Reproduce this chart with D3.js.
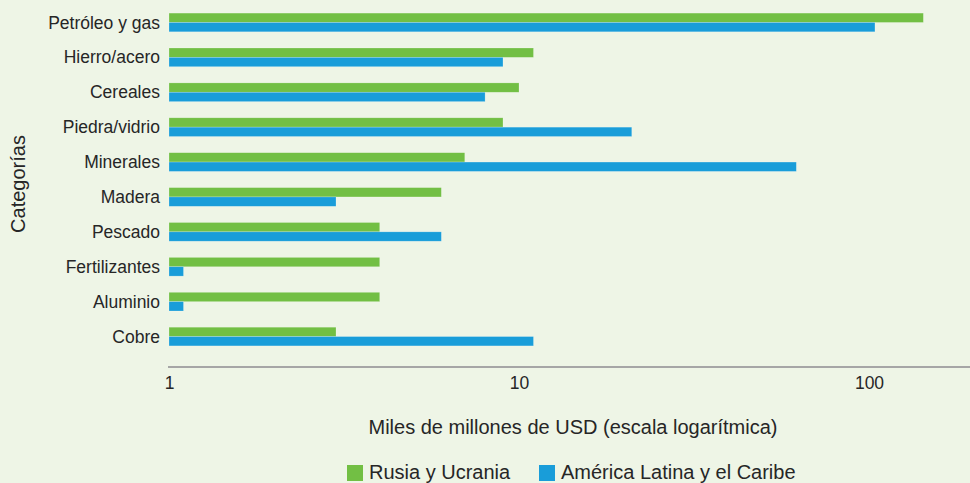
<!DOCTYPE html>
<meta charset="utf-8">
<style>
body { margin: 0; background: #eef5e6; }
text { font-family: "Liberation Sans", Arial, sans-serif; fill: #262626; }
</style>
<body>
<script src="https://d3js.org/d3.v7.min.js"></script>
<script>

// data
var categories = ["Petróleo y gas", "Hierro/acero", "Cereales", "Piedra/vidrio", "Minerales",
                  "Madera", "Pescado", "Fertilizantes", "Aluminio", "Cobre"];
var rusiaUcrania = [143, 11, 10, 9, 7, 6, 4, 4, 4, 3];
var americaLatina = [104, 9, 8, 21, 62, 3, 6, 1.1, 1.1, 11];
var seriesNames = ["Rusia y Ucrania", "América Latina y el Caribe"];
var colors = ["#72bf44", "#199dd9"];
var tickValues = [1, 10, 100];

var width = 970, height = 483;

var svg = d3.select("body").append("svg")
    .attr("width", width)
    .attr("height", height);

// scales
var x = d3.scaleLog()
    .domain([1, 100])
    .range([169, 869]);

var y = d3.scaleBand()
    .domain(categories)
    .range([5, 354])
    .paddingInner(0.464)
    .paddingOuter(0.232);

var sub = d3.scaleBand()
    .domain(seriesNames)
    .range([0, y.bandwidth()]);

var rows = categories.map(function(c, i) {
  return [
    { cat: c, s: seriesNames[0], v: rusiaUcrania[i] },
    { cat: c, s: seriesNames[1], v: americaLatina[i] }
  ];
});

// bars
var g = svg.append("g").selectAll("g")
    .data(rows)
  .enter().append("g")
    .attr("transform", function(d) { return "translate(0," + y(d[0].cat) + ")"; });

g.selectAll("rect")
    .data(function(d) { return d; })
  .enter().append("rect")
    .attr("x", x(1))
    .attr("y", function(d) { return sub(d.s); })
    .attr("width", function(d) { return x(d.v) - x(1); })
    .attr("height", sub.bandwidth())
    .attr("fill", function(d, i) { return colors[i]; })
    .attr("stroke", "rgba(255,255,255,0.35)")
    .attr("stroke-width", 0.6);

// category labels
svg.append("g").selectAll("text")
    .data(categories)
  .enter().append("text")
    .attr("x", 160)
    .attr("y", function(d) { return y(d) + y.bandwidth() / 2; })
    .attr("dy", "0.35em")
    .attr("text-anchor", "end")
    .style("font-size", "17.5px")
    .text(function(d) { return d; });

// x axis
var xAxis = svg.append("g")
    .attr("transform", "translate(0,367)")
    .call(d3.axisBottom(x).tickValues(tickValues).tickFormat(d3.format("d")).tickSize(0).tickPadding(10));

xAxis.select(".domain").remove();
xAxis.append("line")
    .attr("x1", 168).attr("x2", 970)
    .attr("stroke", "#a6a6a6")
    .attr("stroke-width", 2);
xAxis.selectAll(".tick text")
    .style("font-size", "17.5px")
    .style("font-family", "'Liberation Sans', Arial, sans-serif")
    .attr("fill", "#262626");

// axis titles
svg.append("text")
    .attr("x", 573)
    .attr("y", 434)
    .attr("text-anchor", "middle")
    .style("font-size", "20px")
    .text("Miles de millones de USD (escala logarítmica)");

svg.append("text")
    .attr("transform", "translate(25,184) rotate(-90)")
    .attr("text-anchor", "middle")
    .style("font-size", "20px")
    .text("Categorías");

// legend
var legendX = [347, 539];
var legend = svg.append("g").selectAll("g")
    .data(seriesNames)
  .enter().append("g")
    .attr("transform", function(d, i) { return "translate(" + legendX[i] + ",465)"; });

legend.append("rect")
    .attr("width", 16)
    .attr("height", 16)
    .attr("fill", function(d, i) { return colors[i]; });

legend.append("text")
    .attr("x", 22)
    .attr("y", 14)
    .style("font-size", "20px")
    .text(function(d) { return d; });

</script>
</body>
